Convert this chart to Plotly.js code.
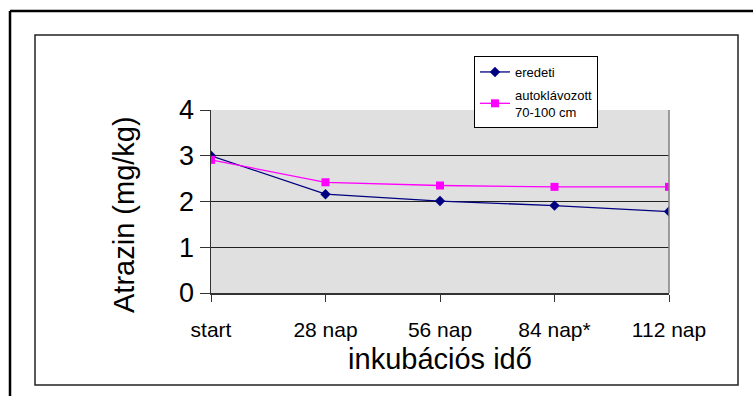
<!DOCTYPE html>
<html>
<head>
<meta charset="utf-8">
<script src="https://cdn.plot.ly/plotly-3.0.1.min.js"></script>
<style>
  html, body { margin: 0; padding: 0; background: #fff; }
  #chart { width: 753px; height: 396px; }
</style>
</head>
<body>
<div id="chart"></div>
<script>
// Atrazin concentration over the incubation period
const categories = ['start', '28 nap', '56 nap', '84 nap*', '112 nap'];
const eredeti = [3.00, 2.16, 2.01, 1.91, 1.78];
const autoklavozott = [2.91, 2.42, 2.35, 2.32, 2.32];
const yTicks = [0, 1, 2, 3, 4];

// plot area in pixels
const L = 211, R = 669, T = 110, B = 293;
const W = 753, H = 396;
const px = x => (x - L) / (R - L);
const py = y => (B - y) / (B - T);

const font = 'Liberation Sans, Arial, sans-serif';

const traces = [
  {
    x: categories, y: eredeti, name: 'eredeti', type: 'scatter', mode: 'lines+markers',
    legendgroup: 'a',
    line: { color: '#000080', width: 1.3 },
    marker: { symbol: 'diamond', size: 8, color: '#000080' }
  },
  {
    x: categories, y: autoklavozott, name: 'autoklávozott<br>70-100 cm', type: 'scatter', mode: 'lines+markers',
    legendgroup: 'b',
    line: { color: '#ff00ff', width: 1.3 },
    marker: { symbol: 'square', size: 8, color: '#ff00ff' }
  }
];

const layout = {
  width: W, height: H,
  margin: { l: L, r: W - R, t: T, b: H - B, pad: 0 },
  paper_bgcolor: '#ffffff',
  plot_bgcolor: '#e0e0e0',
  font: { family: font, color: '#000' },
  showlegend: true,
  legend: {
    x: px(474), y: py(56), xanchor: 'left', yanchor: 'top',
    bgcolor: '#ffffff', bordercolor: '#000', borderwidth: 1,
    font: { family: font, size: 13, color: '#000' },
    tracegroupgap: 3,
    itemwidth: 30
  },
  xaxis: {
    type: 'category',
    range: [0, 4],
    showgrid: false,
    zeroline: false,
    showline: true, linecolor: '#333', linewidth: 1.5,
    ticks: 'outside', ticklen: 7, tickcolor: '#333', tickwidth: 1,
    ticklabelstandoff: 10,
    tickfont: { family: font, size: 21, color: '#000' },
    title: { text: 'inkubációs idő', font: { family: font, size: 29, color: '#000' }, standoff: 9 },
    fixedrange: true
  },
  yaxis: {
    range: [0, 4],
    tickvals: yTicks,
    ticktext: yTicks.map(String),
    showgrid: true, gridcolor: '#222', gridwidth: 1,
    zeroline: false,
    showline: true, linecolor: '#333', linewidth: 1.5,
    ticks: 'outside', ticklen: 10, tickcolor: '#333', tickwidth: 1,
    tickfont: { family: font, size: 27, color: '#000' },
    fixedrange: true
  },
  annotations: [
    // y-axis title
    { text: 'Atrazin (mg/kg)', textangle: -90, showarrow: false,
      xref: 'paper', yref: 'paper', x: px(124), y: py(215),
      xanchor: 'center', yanchor: 'middle',
      font: { family: font, size: 29, color: '#000' } }
  ],
  shapes: [
    // right edge of the plot area
    { type: 'line', xref: 'paper', yref: 'paper', x0: 1, x1: 1, y0: 0, y1: 1,
      line: { color: '#808080', width: 1.5 } },
    // inner chart frame
    { type: 'rect', xref: 'paper', yref: 'paper',
      x0: px(35), x1: px(738), y0: py(385), y1: py(35),
      line: { color: '#222', width: 1.5 }, layer: 'below' },
    // outer frame (left and top edges)
    { type: 'line', xref: 'paper', yref: 'paper',
      x0: px(10), x1: px(10), y0: py(400), y1: py(11),
      line: { color: '#000', width: 2.5 } },
    { type: 'line', xref: 'paper', yref: 'paper',
      x0: px(10), x1: px(760), y0: py(11), y1: py(11),
      line: { color: '#000', width: 2.5 } }
  ]
};

Plotly.newPlot('chart', traces, layout, { staticPlot: true, displayModeBar: false });
</script>
</body>
</html>
